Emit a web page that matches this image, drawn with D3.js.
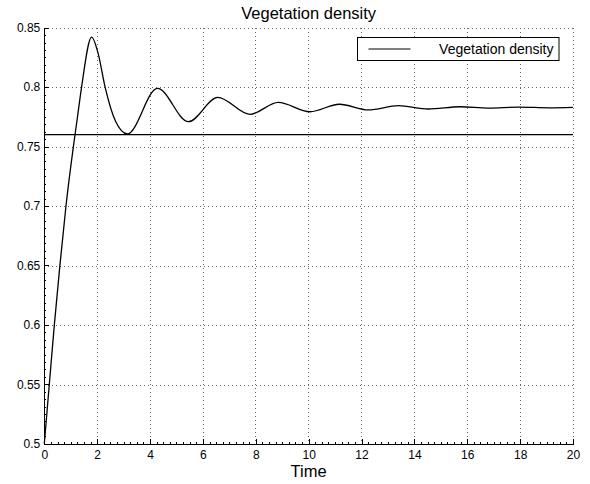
<!DOCTYPE html>
<html>
<head>
<meta charset="UTF-8">
<title>Vegetation density</title>
<script src="https://d3js.org/d3.v7.min.js"></script>
<style>
  * { margin: 0; padding: 0; box-sizing: border-box; }
  body { background: #fff; font-family: "Liberation Sans", Arial, Helvetica, sans-serif; }
  .grid line { stroke: #666; stroke-dasharray: 1,3; shape-rendering: crispEdges; }
  .axis path, .axis line { stroke: #000; shape-rendering: crispEdges; }
  .axis text { font-family: "Liberation Sans", Arial, sans-serif; font-size: 12px; fill: #000; }
</style>
</head>
<body>
<div id="chart"></div>
<script>
// values
const timePts = [0, 0.19, 0.38, 0.59, 0.82, 1.10, 1.25, 1.41, 1.79, 2.04, 2.30, 2.70, 3.14,
                 4.28, 5.45, 6.56, 7.78, 8.85, 10.05, 11.16, 12.26, 13.39, 14.53,
                 15.72, 16.8, 17.95, 19.1, 20];
const density = [0.5, 0.55, 0.60, 0.65, 0.70, 0.75, 0.774, 0.80, 0.842, 0.828, 0.80, 0.771, 0.7606,
                 0.799, 0.7709, 0.7914, 0.7771, 0.7872, 0.7793, 0.7856, 0.7808, 0.7844, 0.7816,
                 0.7835, 0.7824, 0.7832, 0.7826, 0.7830];
const eqLevel = 0.76;
const xTicks = [0, 2, 4, 6, 8, 10, 12, 14, 16, 18, 20];
const yTicks = [0.5, 0.55, 0.6, 0.65, 0.7, 0.75, 0.8, 0.85];

const W = 590, H = 484;
const margin = { top: 27.7, right: 17, bottom: 40.3, left: 44.3 };
const width = W - margin.left - margin.right,
      height = H - margin.top - margin.bottom;

const svg = d3.select("#chart").append("svg")
    .attr("width", W).attr("height", H);
const g = svg.append("g")
    .attr("transform", `translate(${margin.left},${margin.top})`);

const x = d3.scaleLinear().domain([0, 20]).range([0, width]);
const y = d3.scaleLinear().domain([0.5, 0.85]).range([height, 0]);

// dotted grid
const grid = g.append("g").attr("class", "grid");
grid.selectAll(".gx").data(xTicks.slice(1)).join("line")
    .attr("x1", d => Math.round(x(d)) + 0.5).attr("x2", d => Math.round(x(d)) + 0.5)
    .attr("y1", 0).attr("y2", height);
grid.selectAll(".gy").data(yTicks.slice(1)).join("line")
    .attr("x1", 0).attr("x2", width)
    .attr("y1", d => Math.round(y(d)) + 0.5).attr("y2", d => Math.round(y(d)) + 0.5);

// minor ticks
g.append("g").attr("class", "axis")
    .attr("transform", `translate(0,${height})`)
    .call(d3.axisBottom(x).tickValues(d3.range(0, 20.01, 0.25)).tickSize(-2).tickSizeOuter(0).tickFormat(""));
g.append("g").attr("class", "axis")
    .call(d3.axisLeft(y).tickValues(d3.range(0.5, 0.8501, 0.00625)).tickSize(-2).tickSizeOuter(0).tickFormat(""));

// main axes
g.append("g").attr("class", "axis")
    .attr("transform", `translate(0,${height})`)
    .call(d3.axisBottom(x).tickValues(xTicks).tickSize(-5).tickSizeOuter(0).tickPadding(7));
g.append("g").attr("class", "axis")
    .call(d3.axisLeft(y).tickValues(yTicks).tickSize(-5).tickSizeOuter(0).tickPadding(4)
        .tickFormat(d => String(+d.toFixed(2))));

// equilibrium line
g.append("line")
    .attr("x1", x(0)).attr("x2", x(20))
    .attr("y1", y(eqLevel)).attr("y2", y(eqLevel))
    .attr("stroke", "#000").attr("stroke-width", 1.2);

// curve
const pts = timePts.map((t, i) => [t, density[i]]);
const line = d3.line().x(d => x(d[0])).y(d => y(d[1])).curve(d3.curveMonotoneX);
g.append("path").datum(pts)
    .attr("fill", "none").attr("stroke", "#000").attr("stroke-width", 1.3)
    .attr("d", line);

// title and label
svg.append("text")
    .attr("x", margin.left + width / 2).attr("y", 19)
    .attr("text-anchor", "middle").style("font-size", "16.5px")
    .text("Vegetation density");
svg.append("text")
    .attr("x", margin.left + width / 2).attr("y", 477)
    .attr("text-anchor", "middle").style("font-size", "16.5px")
    .text("Time");

// legend
const lg = svg.append("g").attr("transform", "translate(357.5,37.5)");
lg.append("rect").attr("width", 201.5).attr("height", 23)
    .attr("fill", "#fff").attr("stroke", "#000").attr("stroke-width", 1);
lg.append("line").attr("x1", 11).attr("x2", 53).attr("y1", 11.5).attr("y2", 11.5)
    .attr("stroke", "#000").attr("stroke-width", 1.2);
lg.append("text").attr("x", 196).attr("y", 16.5).attr("text-anchor", "end")
    .style("font-size", "14px").text("Vegetation density");
</script>
</body>
</html>
